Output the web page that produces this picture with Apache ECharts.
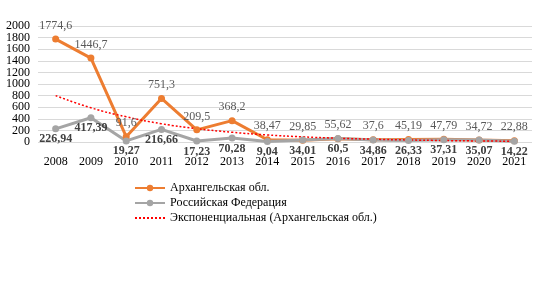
<!DOCTYPE html>
<html>
<head>
<meta charset="utf-8">
<script src="https://cdn.jsdelivr.net/npm/echarts@6/dist/echarts.min.js"></script>
<style>
  html, body { margin: 0; padding: 0; background: #fff; }
  #chart { width: 545px; height: 304px; }
</style>
</head>
<body>
<div id="chart"></div>
<script>
// годы
const years = ['2008', '2009', '2010', '2011', '2012', '2013', '2014', '2015', '2016', '2017', '2018', '2019', '2020', '2021']
// Архангельская обл.
const arkh = [1774.6, 1446.7, 91.6, 751.3, 209.5, 368.2, 38.47, 29.85, 55.62, 37.6, 45.19, 47.79, 34.72, 22.88]
// Российская Федерация
const russia = [226.94, 417.39, 19.27, 216.66, 17.23, 70.28, 9.04, 34.01, 60.5, 34.86, 26.33, 37.31, 35.07, 14.22]
// линия тренда
const trend = [800, 590, 435, 315, 230, 168, 122, 89, 65, 48, 35, 25, 18, 13]
// подписи оси Y
const yTicks = [0, 200, 400, 600, 800, 1000, 1200, 1400, 1600, 1800, 2000]

const serif = '"Liberation Serif", "DejaVu Serif", serif'

// число с запятой
function comma(v) {
  return String(v).replace('.', ',')
}

// подписи оси Y делим на две оси, чтобы ECharts не прятал соседние
const yEven = yTicks.filter((v, i) => i % 2 === 0)
const yOdd = yTicks.filter((v, i) => i % 2 === 1)

function yLabel(values) {
  return {
    fontFamily: serif,
    fontSize: 12,
    color: '#000',
    margin: 8,
    customValues: values,
    formatter: v => String(v)
  }
}

const chart = echarts.init(document.getElementById('chart'))

const option = {
  animation: false,
  textStyle: { fontFamily: serif },
  grid: {
    left: 38,
    right: 13,
    top: 26,
    bottom: 162
  },
  legend: {
    orient: 'vertical',
    left: 129,
    top: 177,
    itemWidth: 30,
    itemHeight: 8,
    itemGap: 3,
    textStyle: { fontFamily: serif, fontSize: 12, color: '#000' },
    data: [
      'Архангельская обл.',
      'Российская Федерация',
      { name: 'Экспоненциальная (Архангельская обл.)', itemStyle: { opacity: 0 } }
    ]
  },
  xAxis: {
    type: 'category',
    data: years,
    boundaryGap: true,
    axisLine: { show: false },
    axisTick: { show: false },
    axisLabel: { fontFamily: serif, fontSize: 12, color: '#000', margin: 14, interval: 0 }
  },
  yAxis: [
    {
      type: 'value',
      position: 'left',
      min: 0,
      max: 2000,
      interval: 200,
      axisLabel: yLabel(yEven),
      splitLine: { lineStyle: { color: '#d9d9d9', width: 1 } }
    },
    {
      type: 'value',
      position: 'left',
      offset: 0,
      min: 0,
      max: 2000,
      interval: 200,
      axisLine: { show: false },
      axisTick: { show: false },
      axisLabel: yLabel(yOdd),
      splitLine: { show: false }
    }
  ],
  series: [
    {
      name: 'Архангельская обл.',
      type: 'line',
      data: arkh,
      symbol: 'circle',
      symbolSize: 7,
      lineStyle: { width: 3, color: '#ed7d31' },
      itemStyle: { color: '#ed7d31' },
      label: {
        show: true,
        position: 'top',
        distance: 4,
        fontFamily: serif,
        fontSize: 12,
        color: '#595959',
        formatter: p => comma(p.value)
      }
    },
    {
      name: 'Российская Федерация',
      type: 'line',
      data: russia,
      symbol: 'circle',
      symbolSize: 7,
      lineStyle: { width: 3, color: '#a5a5a5' },
      itemStyle: { color: '#a5a5a5' },
      label: {
        show: true,
        position: 'bottom',
        distance: 1,
        fontFamily: serif,
        fontSize: 12,
        fontWeight: 'bold',
        color: '#404040',
        formatter: p => comma(p.value)
      }
    },
    {
      name: 'Экспоненциальная (Архангельская обл.)',
      type: 'line',
      data: trend,
      smooth: true,
      symbol: 'none',
      lineStyle: { width: 1.5, color: '#ff0000', type: [2, 2] },
      itemStyle: { color: '#ff0000' }
    }
  ]
}

chart.setOption(option)
</script>
</body>
</html>
